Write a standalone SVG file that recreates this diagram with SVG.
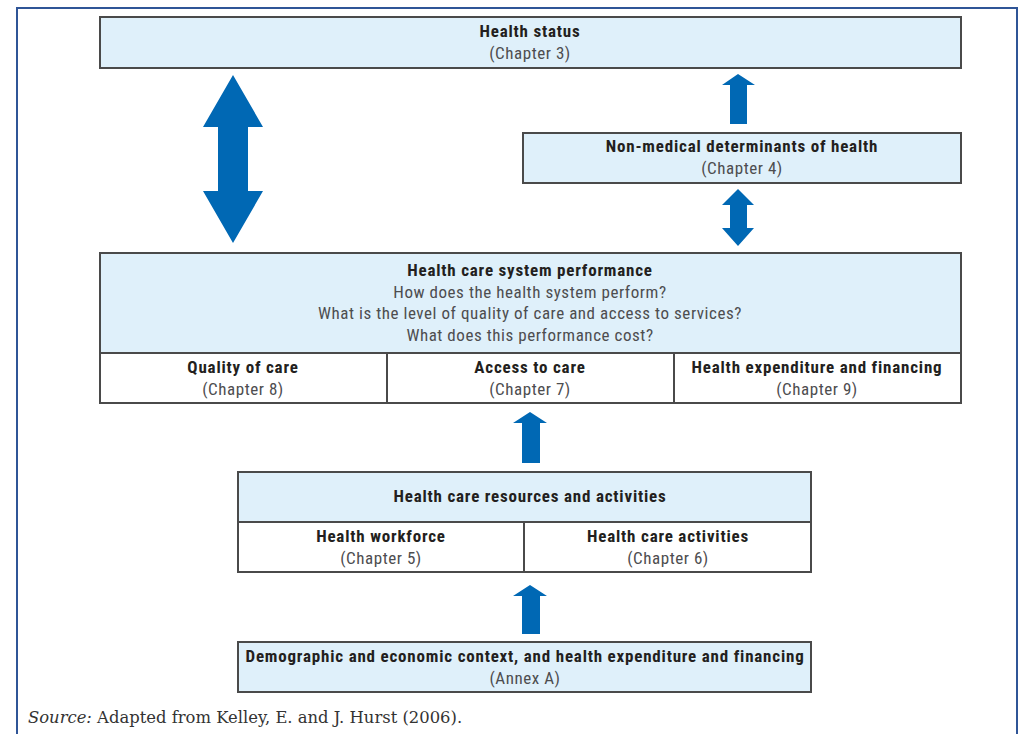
<svg xmlns="http://www.w3.org/2000/svg" width="1021" height="734" viewBox="0 0 1021 734">
<style>
.frame{fill:#fff;stroke:#2f5597;stroke-width:2}
.blue{fill:#dff0fa;stroke:#4a4a4a;stroke-width:2}
.white{fill:#fff;stroke:#4a4a4a;stroke-width:2}
.b{font-family:"Liberation Sans Narrow","Roboto Condensed","Liberation Sans",sans-serif;font-weight:bold;font-size:17px;letter-spacing:0.8px;fill:#231f20;text-anchor:middle}
.n{font-family:"Liberation Sans Narrow","Roboto Condensed","Liberation Sans",sans-serif;font-size:17px;letter-spacing:0.55px;fill:#4d4d4f;text-anchor:middle}
.src{font-family:"DejaVu Serif","Liberation Serif",serif;font-size:16.4px;fill:#333}
.arr{fill:#0068b4}
</style>
<rect width="1021" height="734" fill="#fff"/>
<rect class="frame" x="17" y="8" width="1000" height="740"/>
<g id="health-status">
<rect class="blue" x="100" y="17" width="861" height="51"/>
<text class="b" x="530" y="37">Health status</text>
<text class="n" x="530" y="59">(Chapter 3)</text>
</g>
<g id="non-medical">
<rect class="blue" x="523" y="133" width="438" height="50"/>
<text class="b" x="742" y="152">Non-medical determinants of health</text>
<text class="n" x="742" y="174">(Chapter 4)</text>
</g>
<g id="performance">
<rect class="blue" x="100" y="253" width="861" height="100"/>
<text class="b" x="530" y="276">Health care system performance</text>
<text class="n" x="530" y="298">How does the health system perform?</text>
<text class="n" x="530" y="319">What is the level of quality of care and access to services?</text>
<text class="n" x="530" y="341">What does this performance cost?</text>
</g>
<g id="quality">
<rect class="white" x="100" y="353" width="287" height="50"/>
<text class="b" x="243" y="373">Quality of care</text>
<text class="n" x="243" y="395">(Chapter 8)</text>
</g>
<g id="access">
<rect class="white" x="387" y="353" width="287" height="50"/>
<text class="b" x="530" y="373">Access to care</text>
<text class="n" x="530" y="395">(Chapter 7)</text>
</g>
<g id="expenditure">
<rect class="white" x="674" y="353" width="287" height="50"/>
<text class="b" x="817" y="373">Health expenditure and financing</text>
<text class="n" x="817" y="395">(Chapter 9)</text>
</g>
<g id="resources">
<rect class="blue" x="238" y="472" width="573" height="50"/>
<text class="b" x="530" y="502">Health care resources and activities</text>
</g>
<g id="workforce">
<rect class="white" x="238" y="522" width="286" height="50"/>
<text class="b" x="381" y="542">Health workforce</text>
<text class="n" x="381" y="564">(Chapter 5)</text>
</g>
<g id="activities">
<rect class="white" x="524" y="522" width="287" height="50"/>
<text class="b" x="668" y="542">Health care activities</text>
<text class="n" x="668" y="564">(Chapter 6)</text>
</g>
<g id="demographic">
<rect class="blue" x="238" y="642" width="573" height="50"/>
<text class="b" x="525" y="662">Demographic and economic context, and health expenditure and financing</text>
<text class="n" x="525" y="684">(Annex A)</text>
</g>
<g id="connectors">
<polygon class="arr" points="233,75 263,127 248,127 248,191 263,191 233,243 203,191 218,191 218,127 203,127"/>
<polygon class="arr" points="738,74 755,85 747,85 747,124 730,124 730,85 722,85"/>
<polygon class="arr" points="738,189 754,205 747,205 747,228 754,228 738,246 722,228 730,228 730,205 722,205"/>
<polygon class="arr" points="530,412 547,423 540,423 540,463 522,463 522,423 513,423"/>
<polygon class="arr" points="530,585 547,596 540,596 540,634 522,634 522,596 513,596"/>
</g>
<text class="src" x="28" y="723"><tspan font-style="italic">Source:</tspan>  Adapted from Kelley, E. and J. Hurst (2006).</text>
</svg>
